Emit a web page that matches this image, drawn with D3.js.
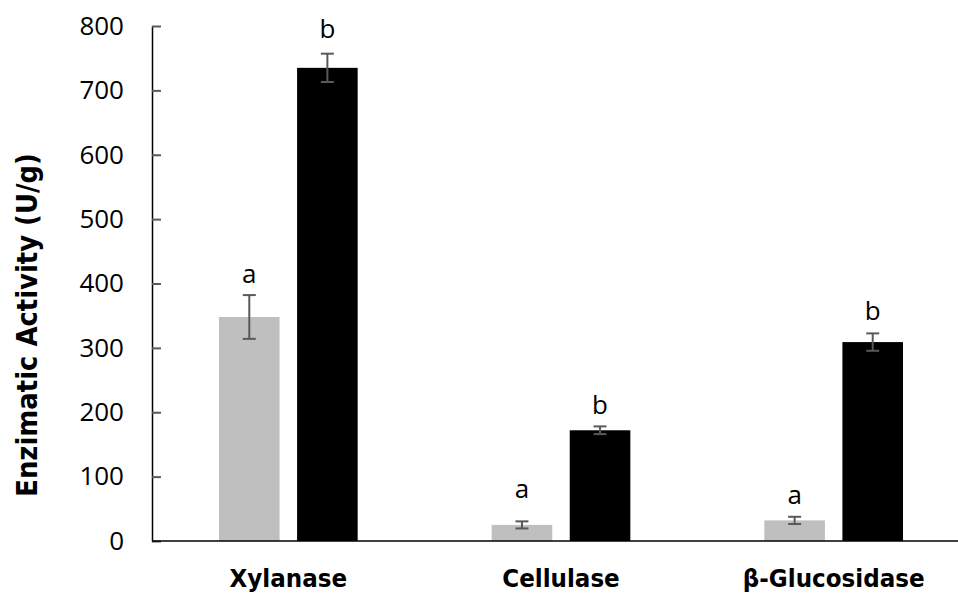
<!DOCTYPE html>
<html>
<head>
<meta charset="utf-8">
<script src="https://cdn.jsdelivr.net/npm/d3@7"></script>
<style>
  html, body { margin: 0; padding: 0; background: #fff; }
  svg { display: block; }
  .tick-label { font-family: "Open Sans", "Liberation Sans", Arial, sans-serif; font-weight: 400; font-size: 26px; fill: #000; }
  .bold-label { font-family: "DejaVu Sans", "Liberation Sans", sans-serif; font-weight: bold; fill: #000; }
</style>
</head>
<body>
<svg id="chart" width="958" height="596"></svg>
<script>
// Enzyme categories along the x axis
const categories = ["Xylanase", "Cellulase", "β-Glucosidase"];
// Two treatments per enzyme (grey and black bars)
const seriesNames = ["control", "treated"];
const controlValues = [348, 25, 32];
const treatedValues = [735, 172, 309];
// Error bar half-widths (standard deviation)
const controlErrors = [34, 5.5, 5.6];
const treatedErrors = [22, 6, 13.5];
// Significance letters and the value height at which they sit
const controlLetters = ["a", "a", "a"];
const treatedLetters = ["b", "b", "b"];
const controlLetterAt = [401, 67, 58];
const treatedLetterAt = [781, 197, 344];
// Y axis ticks
const yTicks = [0, 100, 200, 300, 400, 500, 600, 700, 800];
const yLabel = "Enzimatic Activity (U/g)";

const colors = { control: "#BFBFBF", treated: "#000000" };

const svg = d3.select("#chart");
const plotLeft = 152, plotRight = 970, plotTop = 26, plotBottom = 541;

const x0 = d3.scaleBand().domain(categories).range([plotLeft, plotRight]);
const x1 = d3.scaleBand().domain(seriesNames)
  .range([0, x0.bandwidth()])
  .paddingInner(0.224)
  .paddingOuter(0.858);
const y = d3.scaleLinear().domain([0, 800]).range([plotBottom, plotTop]);

// Build rows from the arrays
const rows = [];
categories.forEach((c, i) => {
  rows.push({ cat: c, s: "control", v: controlValues[i], e: controlErrors[i], letter: controlLetters[i], at: controlLetterAt[i] });
  rows.push({ cat: c, s: "treated", v: treatedValues[i], e: treatedErrors[i], letter: treatedLetters[i], at: treatedLetterAt[i] });
});

// Bars
svg.append("g").selectAll("rect").data(rows).join("rect")
  .attr("x", d => x0(d.cat) + x1(d.s))
  .attr("width", x1.bandwidth())
  .attr("y", d => y(d.v))
  .attr("height", d => y(0) - y(d.v))
  .attr("fill", d => colors[d.s]);

// Error bars
const cap = 6.5;
const eg = svg.append("g").attr("stroke", "#595959").attr("stroke-width", 2);
rows.forEach(d => {
  const cx = x0(d.cat) + x1(d.s) + x1.bandwidth() / 2;
  eg.append("line").attr("x1", cx).attr("x2", cx).attr("y1", y(d.v + d.e)).attr("y2", y(d.v - d.e));
  eg.append("line").attr("x1", cx - cap).attr("x2", cx + cap).attr("y1", y(d.v + d.e)).attr("y2", y(d.v + d.e));
  eg.append("line").attr("x1", cx - cap).attr("x2", cx + cap).attr("y1", y(d.v - d.e)).attr("y2", y(d.v - d.e));
});

// Significance letters
svg.append("g").selectAll("text").data(rows).join("text")
  .attr("class", "tick-label")
  .attr("x", d => x0(d.cat) + x1(d.s) + x1.bandwidth() / 2)
  .attr("y", d => y(d.at))
  .attr("text-anchor", "middle")
  .text(d => d.letter);

// Y axis with inward ticks
const yAxis = d3.axisLeft(y).tickValues(yTicks).tickSizeInner(-9).tickSizeOuter(0).tickPadding(28);
const ya = svg.append("g").attr("transform", `translate(${plotLeft},0)`).call(yAxis);
ya.attr("font-family", null).attr("font-size", null);
ya.select(".domain").attr("stroke", "#000").attr("stroke-width", 1.5);
ya.selectAll(".tick line").attr("stroke", "#595959").attr("stroke-width", 2);
ya.selectAll(".tick text").attr("class", "tick-label").attr("fill", "#000");

// X axis baseline
svg.append("line")
  .attr("x1", plotLeft).attr("x2", 958)
  .attr("y1", y(0)).attr("y2", y(0))
  .attr("stroke", "#000").attr("stroke-width", 1.5);

// Category labels (heavy, slightly condensed)
svg.append("g").selectAll("text").data(categories).join("text")
  .attr("class", "bold-label")
  .attr("font-size", 24)
  .attr("transform", d => `translate(${x0(d) + x0.bandwidth() / 2},587) scale(0.96,1)`)
  .attr("text-anchor", "middle")
  .text(d => d);

// Y axis title
svg.append("text")
  .attr("class", "bold-label")
  .attr("font-size", 28)
  .attr("transform", "translate(37,325) rotate(-90) scale(0.925,1)")
  .attr("text-anchor", "middle")
  .text(yLabel);
</script>
</body>
</html>
